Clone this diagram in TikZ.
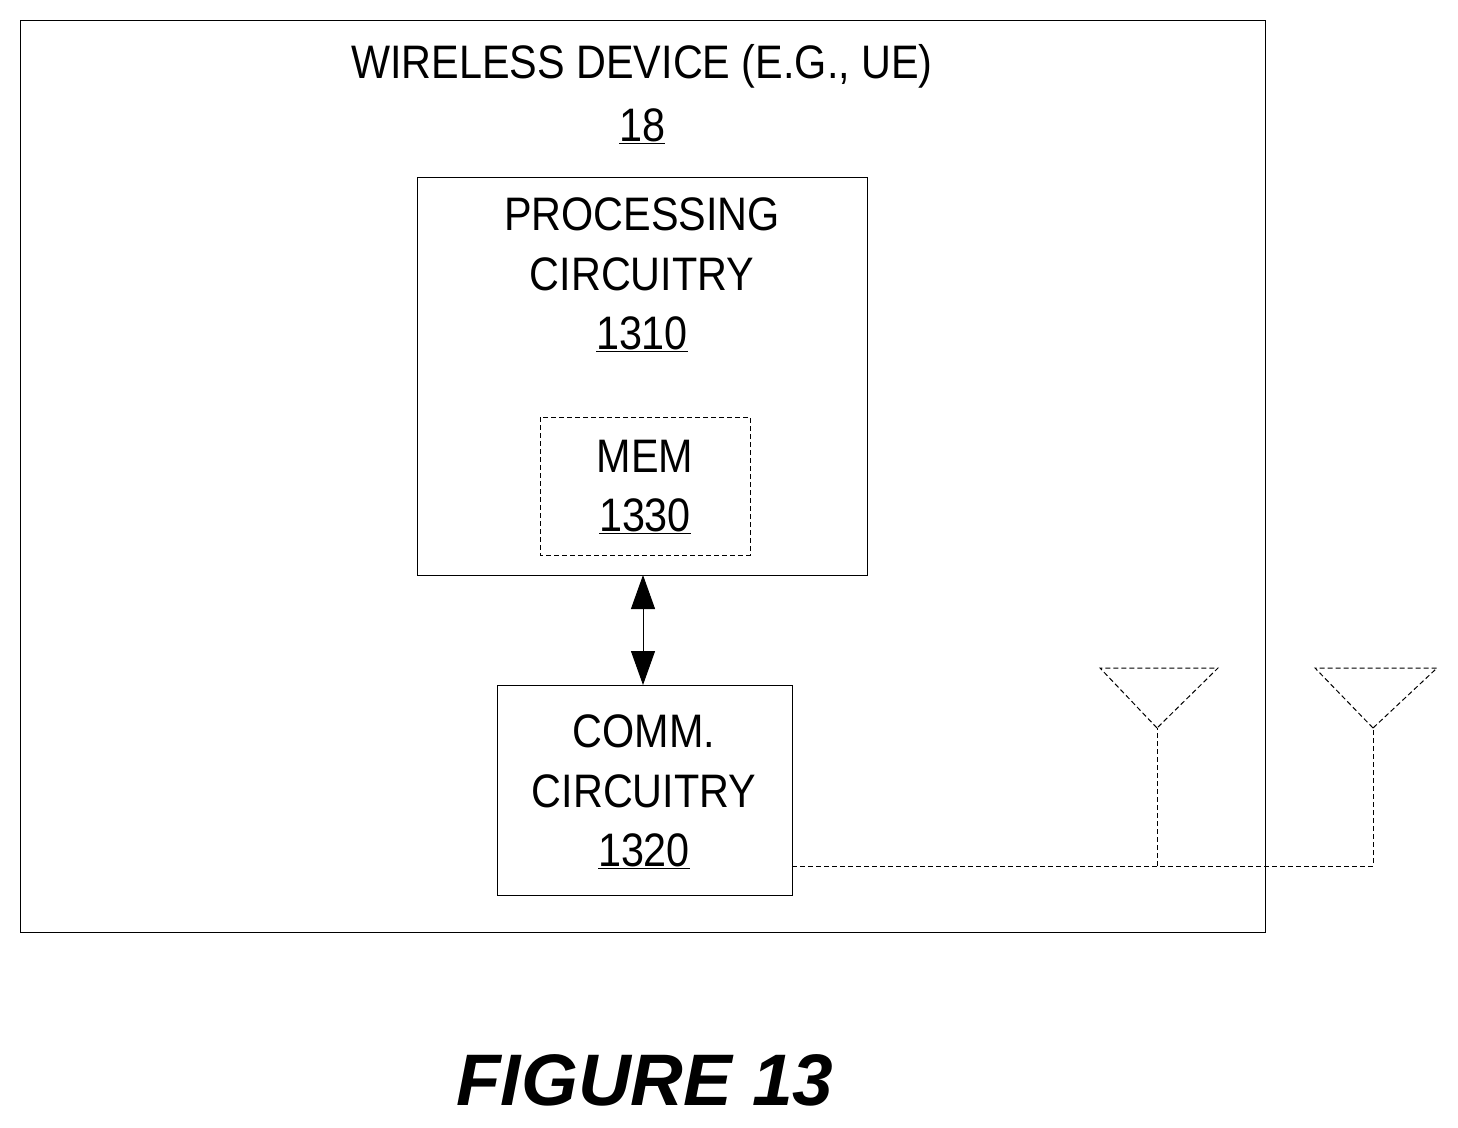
\documentclass[tikz,border=0pt]{standalone}
\usepackage{fontspec}
\setmainfont{Liberation Sans}[FakeStretch=0.88]
\newfontfamily\figfont{Liberation Sans}
\usetikzlibrary{arrows.meta}
\begin{document}
\begin{tikzpicture}[x=1pt,y=-1pt,
  box/.style={draw,line width=1pt},
  lbl/.style={font=\fontsize{47}{50}\selectfont,anchor=center,inner sep=0},
  dsh/.style={draw,line width=1pt,dash pattern=on 5pt off 3pt}]
\useasboundingbox (0,0) rectangle (1458,1127);
\draw[box] (20,20) rectangle (1265,932);
\node[lbl] (t1) at (642,66) {WIRELESS DEVICE (E.G., UE)};
\node[lbl] (t2) at (642,126) {\underline{18}};
\draw[box] (417,177) rectangle (867,575);
\coordinate (pb) at (643,575);
\node[lbl] (p1) at (642,214) {PROCESSING};
\node[lbl] (p2) at (642,274) {CIRCUITRY};
\node[lbl] (p3) at (642,334) {\underline{1310}};
\draw[dsh] (540,417) rectangle (750,555);
\node[lbl] (m1) at (645,456) {MEM};
\node[lbl] (m2) at (645,516) {\underline{1330}};
\draw[box] (497,685) rectangle (792,895);
\coordinate (ct) at (643,685);
\node[lbl] (c1) at (644,731) {COMM.};
\node[lbl] (c2) at (644,791) {CIRCUITRY};
\node[lbl] (c3) at (644,851) {\underline{1320}};
\draw[line width=1pt,{Triangle[length=34pt,width=24pt]}-{Triangle[length=34pt,width=24pt]}] (pb) -- (ct);
\coordinate (d0) at (792,866);
\coordinate (d1) at (1157,866);
\coordinate (d2) at (1373,866);
\coordinate (a1) at (1157,728);
\coordinate (a2) at (1373,728);
\draw[dsh] (d0) -- (d2) -- (a2);
\draw[dsh] (d1) -- (a1);
\draw[dsh] (a1) -- (1100,668) -- (1218,668) -- cycle;
\draw[dsh] (a2) -- (1315,668) -- (1437,668) -- cycle;
\node[font=\figfont\fontsize{73}{76}\selectfont\bfseries\itshape,inner sep=0] (fig) at (645,1080) {FIGURE 13};
\end{tikzpicture}
\end{document}
